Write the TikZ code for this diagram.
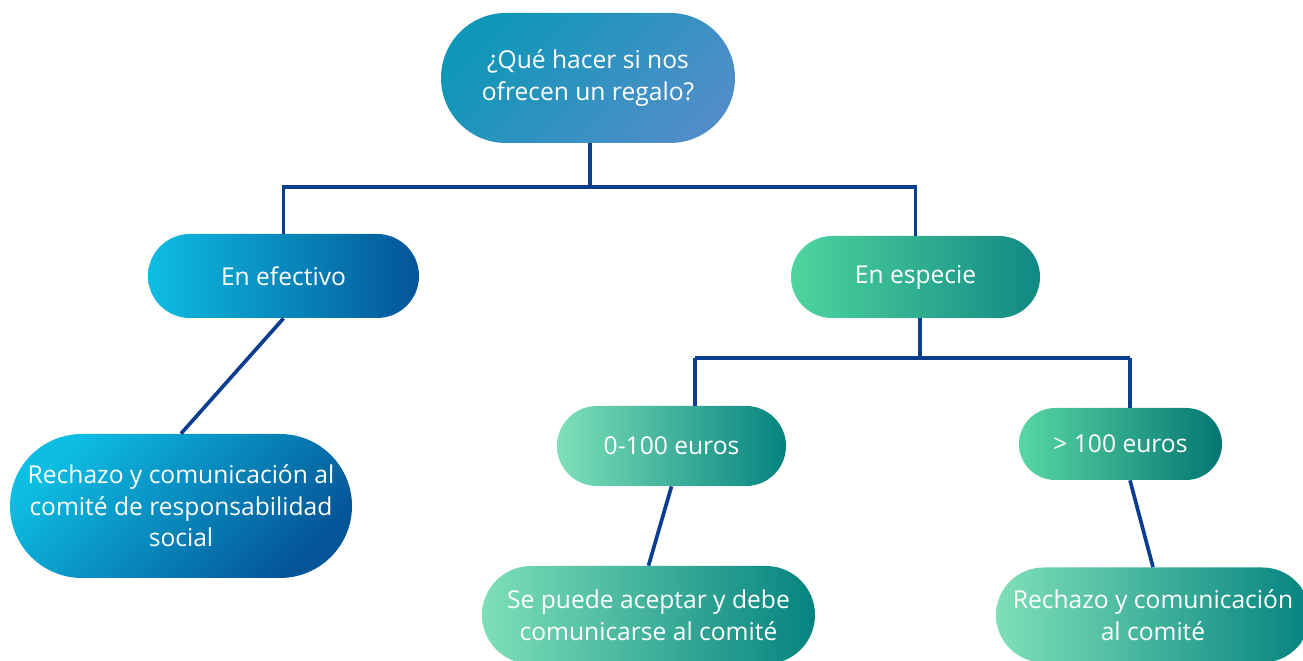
\documentclass[tikz,border=0pt]{standalone}
\usepackage{fontspec}
\setmainfont{Open Sans}
\usetikzlibrary{shapes.misc}
\definecolor{linkblue}{HTML}{0B3E8E}
\definecolor{qa}{HTML}{0F97B7}
\definecolor{qb}{HTML}{4F8EC8}
\definecolor{cyanA}{HTML}{0DBDE2}
\definecolor{blueB}{HTML}{045597}
\definecolor{greenA}{HTML}{4FD59E}
\definecolor{tealB}{HTML}{128883}
\definecolor{mintA}{HTML}{7EE0B8}
\definecolor{tealC}{HTML}{05837F}

\begin{document}
\begin{tikzpicture}[
    pill/.style={rounded rectangle,text=white,align=center,inner sep=0pt,
      font=\fontsize{14}{18}\selectfont},
    link/.style={draw=linkblue,line width=2.1pt}]
    \useasboundingbox (0,0) rectangle (26.06,13.22);
    % Nodes
    \node (q) at (11.76,11.66) [pill,minimum width=5.88cm,minimum height=2.6cm,top color=qa,bottom color=qb,shading angle=45] {¿Qué hacer si nos\\ofrecen un regalo?};
    \node (a) at (5.67,7.70) [pill,minimum width=5.42cm,minimum height=1.68cm,left color=cyanA,right color=blueB] {En efectivo};
    \node (b) at (18.31,7.68) [pill,minimum width=4.98cm,minimum height=1.64cm,left color=greenA,right color=tealB] {En especie};
    \node (e) at (3.62,3.10) [pill,minimum width=6.84cm,minimum height=2.88cm,top color=cyanA,bottom color=blueB,shading angle=45] {Rechazo y comunicación al\\comité de responsabilidad\\social};
    \node (c) at (13.43,4.30) [pill,minimum width=4.58cm,minimum height=1.60cm,left color=mintA,right color=tealC] {0-100 euros};
    \node (d) at (22.41,4.34) [pill,minimum width=4.06cm,minimum height=1.44cm,left color=greenA!80!mintA,right color=tealC!90!black] {> 100 euros};
    \node (f) at (12.97,0.92) [pill,minimum width=6.66cm,minimum height=1.96cm,left color=mintA,right color=tealC] {Se puede aceptar y debe\\comunicarse al comité};
    \node (g) at (23.06,0.92) [pill,minimum width=6.28cm,minimum height=1.90cm,left color=mintA,right color=tealC] {Rechazo y comunicación\\al comité};
    % Bus points
    \coordinate (b1) at (11.80,9.48);
    \coordinate (b2) at (18.40,6.06);
    \coordinate (b2l) at (13.90,6.06);
    \coordinate (b2r) at (22.60,6.06);
    % Edges
    \path[link] (q.south -| b1) edge (b1);
    \path[link] (a.north) edge[to path={|- (\tikztotarget)}] (b1);
    \path[link] (b1) edge[to path={-| (\tikztotarget)}] (b.north);
    \path[link] (b.south -| b2) edge (b2);
    \path[link] (b2l) edge (b2r);
    \path[link] (b2l) edge (b2l |- c.north);
    \path[link] (b2r) edge (b2r |- d.north);
    \path[link] (a.south) edge (e.north);
    \path[link] (c.south) edge (f.north);
    \path[link] ([xshift=0.19cm]d.south) edge (g.north);
\end{tikzpicture}
\end{document}
